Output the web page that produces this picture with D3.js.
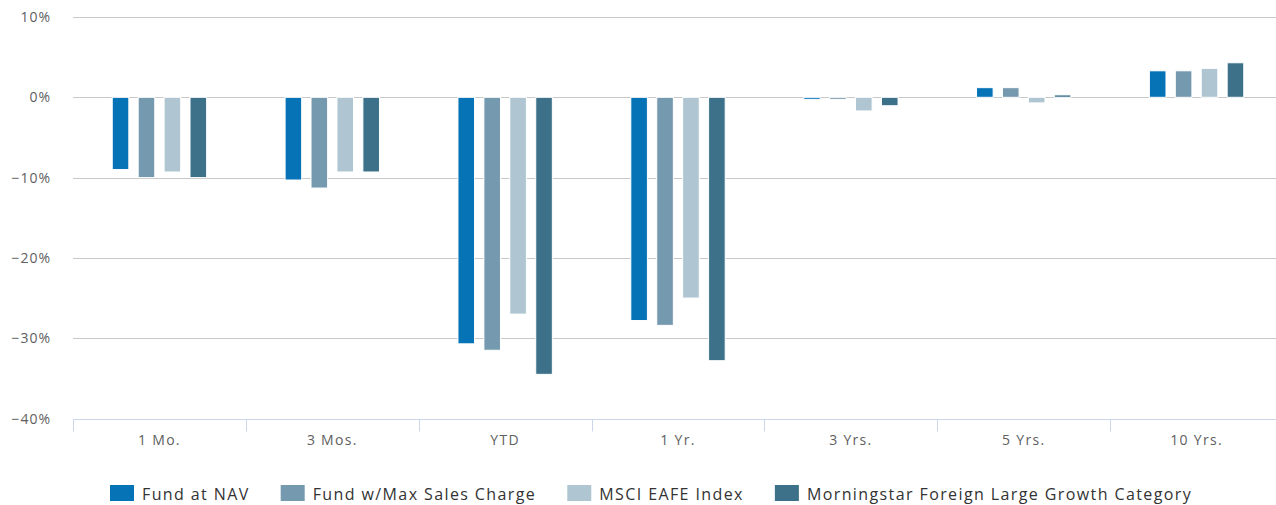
<!DOCTYPE html>
<html>
<head>
<meta charset="utf-8">
<script src="https://cdn.jsdelivr.net/npm/d3@7"></script>
<style>
  body { margin: 0; background: #fff; overflow: hidden; }
  text { font-family: "Open Sans", sans-serif; }
</style>
</head>
<body>
<div id="chart"></div>
<script>
// Data
var categories = ["1 Mo.", "3 Mos.", "YTD", "1 Yr.", "3 Yrs.", "5 Yrs.", "10 Yrs."];
var seriesNames = ["Fund at NAV", "Fund w/Max Sales Charge", "MSCI EAFE Index", "Morningstar Foreign Large Growth Category"];
var fundNav = [-9.0, -10.3, -30.7, -27.8, -0.25, 1.2, 3.3];
var fundMax = [-10.0, -11.3, -31.5, -28.4, -0.25, 1.2, 3.3];
var msciEafe = [-9.3, -9.3, -27.0, -25.0, -1.7, -0.7, 3.6];
var morningstar = [-10.0, -9.3, -34.5, -32.8, -1.05, 0.3, 4.3];
var yTicks = [10, 0, -10, -20, -30, -40];
var colors = ["#0673b7", "#7599ae", "#afc6d2", "#3c7189"];

var allSeries = [fundNav, fundMax, msciEafe, morningstar];

// Dimensions and margins (plot runs a little past the right edge)
var margin = {top: 17, right: 0, bottom: 87, left: 73},
    width = 1210,
    height = 505 - margin.top - margin.bottom;

var svg = d3.select("#chart")
    .append("svg")
    .attr("width", 1276)
    .attr("height", 505)
    .append("g")
    .attr("transform", "translate(" + margin.left + "," + margin.top + ")");

// Scales
var x = d3.scaleBand()
    .domain(categories)
    .range([0, width])
    .padding(0);

var y = d3.scaleLinear()
    .domain([-40, 10])
    .range([height + 0.5, 0]);

var xSub = d3.scaleBand()
    .domain(seriesNames)
    .range([x.bandwidth() * 0.2, x.bandwidth() * 0.8])
    .paddingInner(0.36)
    .paddingOuter(0.18);

// Grid lines
svg.append("g")
    .selectAll("line")
    .data(yTicks.slice(0, -1))
    .enter()
    .append("line")
    .attr("x1", 0)
    .attr("x2", width)
    .attr("y1", function (d) { return Math.round(y(d)) + 0.5; })
    .attr("y2", function (d) { return Math.round(y(d)) + 0.5; })
    .attr("stroke", "#c8c8c8")
    .attr("stroke-width", 1);

// Y axis labels
var fmt = d3.format("d");
svg.append("g")
    .selectAll("text")
    .data(yTicks)
    .enter()
    .append("text")
    .attr("x", -22)
    .attr("y", function (d) { return Math.round(y(d)) + 5; })
    .attr("text-anchor", "end")
    .attr("fill", "#606060")
    .style("font-size", "14px")
    .style("letter-spacing", "1px")
    .text(function (d) { return fmt(d) + "%"; });

// X axis
var xAxis = svg.append("g")
    .attr("transform", "translate(0," + (Math.round(y(-40)) + 0.5) + ")");

xAxis.append("line")
    .attr("x1", 0)
    .attr("x2", width)
    .attr("stroke", "#ccd6eb");

xAxis.selectAll("line.tick")
    .data(categories)
    .enter()
    .append("line")
    .attr("class", "tick")
    .attr("x1", function (d) { return Math.round(x(d)) + 0.5; })
    .attr("x2", function (d) { return Math.round(x(d)) + 0.5; })
    .attr("y1", 0)
    .attr("y2", 12)
    .attr("stroke", "#ccd6eb");

xAxis.selectAll("text")
    .data(categories)
    .enter()
    .append("text")
    .attr("x", function (d) { return x(d) + x.bandwidth() / 2; })
    .attr("y", 25.5)
    .attr("text-anchor", "middle")
    .attr("fill", "#606060")
    .style("font-size", "14px")
    .style("letter-spacing", "1.3px")
    .text(function (d) { return d; });

// Bars
var groups = svg.selectAll("g.layer")
    .data(categories)
    .enter()
    .append("g")
    .classed("layer", true)
    .attr("transform", function (d) { return "translate(" + x(d) + ",0)"; });

groups.selectAll("rect")
    .data(function (d, i) {
        return seriesNames.map(function (key, j) {
            return {key: key, value: allSeries[j][i], idx: j};
        });
    })
    .enter()
    .append("rect")
    .attr("x", function (d) { return xSub(d.key); })
    .attr("width", xSub.bandwidth())
    .attr("y", function (d) { return Math.min(y(d.value), y(0)); })
    .attr("height", function (d) { return Math.abs(y(d.value) - y(0)); })
    .attr("fill", function (d) { return colors[d.idx]; })
    .attr("stroke", "#fff")
    .attr("stroke-width", 1);

// Legend
var legend = d3.select("svg").append("g")
    .attr("transform", "translate(0,485)");

var lx = 110;
seriesNames.forEach(function (name, i) {
    var item = legend.append("g").attr("transform", "translate(" + lx + ",0)");
    item.append("rect")
        .attr("width", 24)
        .attr("height", 16)
        .attr("fill", colors[i]);
    var t = item.append("text")
        .attr("x", 32)
        .attr("y", 15)
        .attr("fill", "#333")
        .style("font-size", "16px")
        .style("letter-spacing", "1.4px")
        .text(name);
    lx += 32 + t.node().getComputedTextLength() + 31;
});
</script>
</body>
</html>
